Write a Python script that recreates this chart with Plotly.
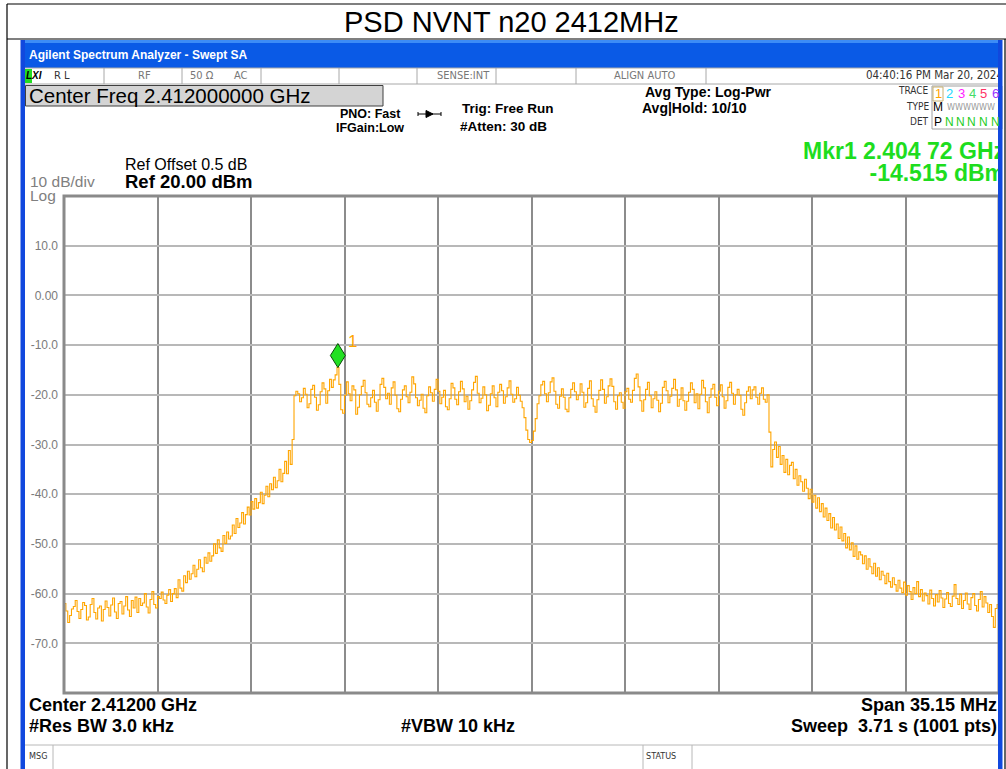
import numpy as np
import plotly.graph_objects as go

W, H = 1006, 769

# ---- sweep settings ----
CENTER_GHZ = 2.412
SPAN_MHZ = 35.15
REF_LEVEL_DBM = 20.0
DB_PER_DIV = 10.0
N_DIV = 10

MKR_FREQ_GHZ = 2.40472
MKR_LEVEL_DBM = -14.515

# ---- trace 1 (dBm), 501 sweep points from low to high frequency ----
level_floor_low = [
    -62.0, -63.5, -65.8, -64.4, -63.1, -62.6, -61.4, -63.6, -65.0, -63.2,
    -61.8, -62.4, -65.3, -64.7, -62.2, -61.0, -63.8, -65.1, -62.9, -62.5,
    -65.5, -63.2, -61.5, -62.8, -64.5, -62.3, -60.9, -63.7, -65.0, -62.0,
    -61.6, -64.1, -62.5, -60.6, -63.3, -64.6, -61.4, -62.9, -60.7, -63.8,
    -61.0, -62.4, -61.9, -60.0, -62.7, -63.9, -61.2, -59.6, -62.2, -62.9,
    -60.6, -61.0, -59.7, -61.3, -62.0, -60.3, -59.2, -61.6, -60.0,
]
level_rise = [
    -59.0, -60.8, -57.2, -58.9, -59.5, -56.4, -57.8, -55.5, -57.1, -56.0,
    -54.3, -56.6, -55.1, -53.2, -54.8, -55.6, -52.7, -53.9, -51.8, -53.5,
    -52.4, -50.0, -51.9, -49.2, -50.8, -51.5, -48.3, -49.9, -47.6, -49.0,
    -48.4, -46.2, -47.9, -44.9, -46.7, -45.8, -43.7, -46.0, -44.1, -42.6,
    -44.2, -41.5, -43.0, -40.9, -42.8, -41.7, -39.6, -41.9, -40.2, -38.4,
    -40.5, -37.9, -39.1, -36.6, -38.7, -37.3, -35.0, -37.5, -35.8, -33.4,
    -35.9, -31.2, -34.0, -29.0,
]
level_band = [
    -20.2, -19.3, -19.8, -21.4, -20.6, -18.7, -19.9, -22.6, -21.8, -18.9,
    -18.1, -20.5, -23.1, -22.0, -19.4, -17.6, -18.8, -21.7, -19.2, -16.9,
    -18.5, -17.0, -16.0, -14.5, -17.9, -23.0, -23.7, -20.1, -17.4, -19.8,
    -21.2, -18.2, -19.0, -23.9, -22.5, -20.0, -18.3, -17.1, -19.6, -21.9,
    -22.4, -20.6, -19.1, -21.5, -23.3, -21.0, -17.9, -16.7, -18.5, -20.8,
    -19.7, -21.9, -18.6, -17.4, -20.1, -22.8, -23.4, -20.9, -19.0, -18.2,
    -20.4, -21.6, -19.5, -16.4, -17.8, -20.6, -22.2, -21.1, -19.9, -22.7,
    -23.6, -20.2, -18.4, -19.6, -21.3, -18.9, -16.9, -19.3, -21.8, -20.5,
    -19.1, -22.4, -23.0, -20.8, -17.7, -18.6, -20.9, -22.0, -19.4, -17.3,
    -18.8, -21.4, -20.3, -22.9, -21.2, -19.0, -17.5, -16.3, -19.7, -21.6,
    -20.7, -18.4, -20.0, -23.2, -22.1, -19.8, -18.2, -20.6, -22.4, -19.5,
    -17.9, -19.2, -21.7, -20.4, -18.6, -17.2, -19.9, -21.5, -20.8, -18.5,
    -20.1, -21.3, -22.6, -24.6, -27.1, -29.0, -29.6, -29.2, -27.3, -24.8,
    -21.8, -20.2, -18.0, -17.3, -19.8, -21.4, -19.6, -17.4, -16.6, -19.3,
    -21.9, -22.7, -20.3, -18.8, -20.5, -22.9, -23.4, -20.6, -18.9, -17.6,
    -19.4, -21.0, -20.1, -17.8, -19.5, -22.5, -21.6, -18.7, -17.2, -20.8,
    -22.3, -23.5, -21.0, -19.1, -17.0, -18.9, -21.7, -20.4, -18.2, -16.8,
    -18.3, -21.4, -22.9, -20.2, -19.6, -21.5, -22.7, -19.4, -18.7, -20.9,
    -21.5, -19.1, -16.7, -15.8, -18.4, -21.2, -23.3, -21.0, -18.9, -17.5,
    -20.2, -22.6, -20.8, -19.4, -21.1, -23.4, -21.7, -18.5, -17.3, -19.2,
    -21.6, -20.3, -18.7, -16.9, -19.0, -22.3, -20.9, -18.6, -21.2, -23.1,
    -21.3, -19.5, -17.6, -18.9, -21.6, -19.8, -22.8, -19.9, -17.1, -18.6,
    -21.4, -23.6, -20.5, -18.8, -17.9, -20.5, -22.2, -19.3, -18.0, -20.4,
    -22.7, -21.2, -18.5, -17.5, -19.7, -21.9, -20.0, -18.9, -20.1, -22.9,
    -24.1, -21.6, -19.3, -18.4, -20.8, -19.0, -18.4, -20.5, -21.9, -19.7,
    -18.6, -20.9, -21.5, -20.0,
]
level_fall = [
    -27.5, -34.5, -31.0, -29.5, -32.6, -30.4, -34.0, -32.2, -35.6, -33.0,
    -36.1, -34.2, -33.6, -36.9, -35.0, -38.2, -36.3, -37.5, -39.4, -37.0,
    -38.8, -40.9, -39.0, -41.6, -40.2, -42.8, -40.7, -43.5, -41.9, -44.6,
    -42.8, -45.3, -43.9, -46.8, -44.7, -47.2, -46.0, -48.9, -46.6, -49.4,
    -47.9, -50.8, -48.6, -51.2, -49.8, -52.5, -50.4, -53.1, -51.6, -52.2,
    -54.0, -52.4, -55.1, -53.0, -54.6, -56.0, -53.9, -56.5, -54.8, -57.2,
    -55.5, -56.3, -58.0, -55.9, -57.6, -58.7, -56.8, -58.2, -59.5, -57.3,
    -58.9, -59.8, -57.7, -60.3, -58.4, -59.6, -61.2, -58.8, -60.0, -57.6,
    -60.6, -59.2, -61.5, -59.9, -60.4, -62.1, -59.3, -61.0, -62.5, -60.2,
    -61.7, -59.4, -60.9, -62.8, -61.1, -59.8, -62.0, -62.6, -60.5, -58.2,
    -61.0, -62.2, -60.1, -63.0, -61.4, -59.9, -62.1, -63.2, -60.8, -60.0,
    -62.4, -63.5, -61.2, -59.6, -62.7, -60.6, -61.9, -63.8, -62.2, -64.6,
    -66.8, -63.0, -62.2, -63.5,
]

y_tick_vals = [10, 0, -10, -20, -30, -40, -50, -60, -70]
y_tick_text = ["10.0", "0.00", "-10.0", "-20.0", "-30.0", "-40.0", "-50.0", "-60.0", "-70.0"]

trace_db = level_floor_low + level_rise + level_band + level_fall
start_ghz = CENTER_GHZ - SPAN_MHZ / 2000.0
stop_ghz = CENTER_GHZ + SPAN_MHZ / 2000.0
freq_ghz = np.linspace(start_ghz, stop_ghz, len(trace_db))

SANS = "Liberation Sans, Arial, sans-serif"
NARROW = "Liberation Sans Narrow, Arial Narrow, DejaVu Sans Condensed, Liberation Sans, sans-serif"

GRID_L, GRID_R, GRID_T, GRID_B = 64, 999, 196, 693

shapes = []
annotations = []


def fx(x):
    return x / W


def fy(y):
    return 1 - y / H


def rect(x0, y0, x1, y1, fill=None, line=None, lw=1, layer="below"):
    shapes.append(dict(
        type="rect", xref="paper", yref="paper",
        x0=fx(x0), x1=fx(x1), y0=fy(y1), y1=fy(y0),
        fillcolor=fill or "rgba(0,0,0,0)",
        line=dict(color=line or "rgba(0,0,0,0)", width=lw if line else 0),
        layer=layer,
    ))


def seg(x0, y0, x1, y1, color, lw=1, layer="above"):
    shapes.append(dict(
        type="line", xref="paper", yref="paper",
        x0=fx(x0), x1=fx(x1), y0=fy(y0), y1=fy(y1),
        line=dict(color=color, width=lw), layer=layer,
    ))


def label(text, x, y, size, color="#000000", anchor="left", bold=False, family=SANS, italic=False):
    if bold:
        text = f"<b>{text}</b>"
    if italic:
        text = f"<i>{text}</i>"
    annotations.append(dict(
        text=text, x=fx(x), y=fy(y), xref="paper", yref="paper",
        xanchor=anchor, yanchor="middle", showarrow=False, borderpad=0,
        font=dict(size=size, color=color, family=family),
    ))


# ---- page title box ----
seg(7, 4, 1006, 4, "#000000", 1.2)
seg(7, 39, 1006, 39, "#000000", 1.2)
seg(7, 4, 7, 769, "#000000", 1.2)
seg(1005, 39, 1005, 769, "#000000", 1.2)
label("PSD NVNT n20 2412MHz", 512, 22, 29, anchor="center")

# ---- analyzer window ----
rect(21, 40, 1002, 769, fill="#FFFFFF")
rect(21, 40, 1002, 68, fill="#0A5AE6")
rect(21, 40, 1002, 43, fill="#3D8CF6")
label("Agilent Spectrum Analyzer - Swept SA", 28, 55, 12, color="#FFFFFF", bold=True)

# status strip
seg(25, 68, 998, 68, "#A8A8A8", 1)
seg(25, 84, 998, 84, "#A8A8A8", 1)
for xs in [104, 182, 261, 339, 417, 496, 576, 706]:
    seg(xs, 68, xs, 84, "#A8A8A8", 1)
rect(25, 69, 32, 83, fill="#22DD22")
label("LXI", 25, 76, 10, bold=True, italic=True)
label("R L", 53, 76, 11, color="#333333", family=NARROW)
label("RF", 137, 76, 11, color="#777777", family=NARROW)
label("50 \u03a9", 189, 76, 11, color="#777777", family=NARROW)
label("AC", 233, 76, 11, color="#777777", family=NARROW)
label("SENSE:INT", 436, 76, 11, color="#777777", family=NARROW)
label("ALIGN AUTO", 613, 76, 11, color="#777777", family=NARROW)

# center frequency box
rect(25.5, 85.5, 383, 106, fill="#D4D4D4", line="#404040", lw=1)
label("Center Freq 2.412000000 GHz", 28, 96, 20.5)

label("PNO: Fast", 370, 114, 12.5, bold=True, anchor="center")
label("IFGain:Low", 370, 128, 12.5, bold=True, anchor="center")

# trigger arrow glyph
seg(418, 114, 441, 114, "#000000", 1)
shapes.append(dict(
    type="path", xref="paper", yref="paper",
    path=f"M {fx(426)} {fy(110.5)} L {fx(433)} {fy(114)} L {fx(426)} {fy(117.5)} Z",
    fillcolor="#000000", line=dict(color="#000000", width=1), layer="above",
))
seg(418, 112, 418, 116, "#000000", 1)
seg(441, 112, 441, 116, "#000000", 1)

label("Trig: Free Run", 461, 108, 13.5, bold=True)
label("#Atten: 30 dB", 459, 126, 13.5, bold=True)
label("Avg Type: Log-Pwr", 644, 92, 14, bold=True)
label("Avg|Hold: 10/10", 641, 108, 14, bold=True)

# trace / type / detector block
label("TRACE", 930, 91, 10, color="#333333", anchor="right", family=NARROW)
label("TYPE", 930, 107, 10, color="#333333", anchor="right", family=NARROW)
label("DET", 930, 122, 10, color="#333333", anchor="right", family=NARROW)
rect(932, 86, 1002, 129, fill="#FFFFFF", line="#A0A0A0", lw=1)
rect(933, 87, 943, 101, line="#C8B070", lw=1)
trace_cols = ["#FFA500", "#22D8FF", "#FF22FF", "#44DD66", "#FF3366", "#9933FF"]
for k, (xd, col) in enumerate(zip([938, 949, 961, 972, 983, 995], trace_cols)):
    label(str(k + 1), xd, 93, 13, color=col, anchor="center")
label("M", 938, 107, 12, anchor="center")
label("WWWWWW", 946, 107, 9, color="#9A9A9A", family=NARROW)
label("P", 938, 122, 12, anchor="center")
for xd in [949, 960, 971, 983, 995]:
    label("N", xd, 122, 12, color="#22CC22", anchor="center")

# reference level block
label("Ref Offset 0.5 dB", 124, 164, 16)
label("Ref 20.00 dBm", 124, 181, 18.5, bold=True)
label("10 dB/div", 29, 181, 15.5, color="#808080")
label("Log", 29, 195, 15.5, color="#808080")

# bottom readouts
label("Center 2.41200 GHz", 28, 705, 18, bold=True)
label("#Res BW 3.0 kHz", 28, 726, 18, bold=True)
label("#VBW 10 kHz", 400, 726, 18, bold=True)
label("Span 35.15 MHz", 998, 705, 18, bold=True, anchor="right")
label("Sweep\u00a0\u00a03.71 s (1001 pts)", 998, 726, 18, bold=True, anchor="right")

seg(25, 745, 998, 745, "#B8B8B8", 1)
seg(53, 745, 53, 769, "#B8B8B8", 1)
seg(643, 745, 643, 769, "#B8B8B8", 1)
seg(692, 745, 692, 769, "#B8B8B8", 1)
label("MSG", 28, 756, 9, color="#333333", family=NARROW)
label("STATUS", 645, 756, 9, color="#333333", family=NARROW)

# graticule frame
rect(GRID_L, GRID_T, GRID_R, GRID_B, line="#8A8A8A", lw=3, layer="above")

# window frame (drawn last so it covers anything running past the right edge)
rect(20.5, 40, 25, 769, fill="#1148DE", layer="above")
rect(998, 40, 1002.5, 769, fill="#1148DE", layer="above")

# marker 1 diamond, bottom tip on the marker point
shapes.append(dict(
    type="path", xref="x", yref="y",
    xsizemode="pixel", ysizemode="pixel",
    xanchor=MKR_FREQ_GHZ, yanchor=MKR_LEVEL_DBM,
    path="M 0 0 L -7.5 12 L 0 24 L 7.5 12 Z",
    fillcolor="#22E022", line=dict(color="#0A4A0A", width=1), layer="above",
))
annotations.append(dict(
    text="1", x=MKR_FREQ_GHZ, y=MKR_LEVEL_DBM, xref="x", yref="y",
    xshift=15, yshift=26, showarrow=False, borderpad=0,
    font=dict(size=17, color="#FFA500", family=SANS),
))

fig = go.Figure()
fig.add_trace(go.Scatter(
    x=freq_ghz, y=trace_db, mode="lines",
    line=dict(color="#FFA500", width=1.1, shape="hv"),
    xaxis="x", yaxis="y", hoverinfo="skip", showlegend=False,
))

# right-hand readouts, clipped at the window edge
fig.add_trace(go.Scatter(
    x=[1005, 1005], y=[153, 175], mode="text",
    text=["<b>Mkr1 2.404 72 GHz</b>", "<b>-14.515 dBm</b>"],
    textposition="middle left",
    textfont=dict(size=23, color="#1EDD1E", family=SANS),
    xaxis="x2", yaxis="y2", hoverinfo="skip", showlegend=False, cliponaxis=True,
))
fig.add_trace(go.Scatter(
    x=[1003], y=[76], mode="text", text=["04:40:16 PM Mar 20, 2024"],
    textposition="middle left",
    textfont=dict(size=11.5, color="#333333", family=NARROW),
    xaxis="x2", yaxis="y2", hoverinfo="skip", showlegend=False, cliponaxis=True,
))

fig.update_layout(
    width=W, height=H, autosize=False,
    margin=dict(l=0, r=0, t=0, b=0, pad=0),
    paper_bgcolor="#FFFFFF", plot_bgcolor="rgba(0,0,0,0)",
    showlegend=False,
    xaxis=dict(
        domain=[fx(GRID_L), fx(GRID_R)], range=[start_ghz, stop_ghz],
        tick0=start_ghz, dtick=SPAN_MHZ / N_DIV / 1000.0,
        showgrid=True, gridcolor="#8C8C8C", gridwidth=1.5,
        showticklabels=False, ticks="", zeroline=False, showline=False, fixedrange=True,
    ),
    yaxis=dict(
        domain=[fy(GRID_B), fy(GRID_T)],
        range=[REF_LEVEL_DBM - N_DIV * DB_PER_DIV, REF_LEVEL_DBM],
        tickvals=y_tick_vals, ticktext=y_tick_text,
        tickfont=dict(size=12, color="#7A7A7A", family=SANS),
        ticks="", ticklabelstandoff=5,
        showgrid=True, gridcolor="#B8B8B8", gridwidth=2,
        zeroline=False, showline=False, fixedrange=True,
    ),
    xaxis2=dict(domain=[0, fx(1002)], range=[0, 1002], visible=False, fixedrange=True),
    yaxis2=dict(domain=[0, 1], range=[H, 0], visible=False, fixedrange=True),
    shapes=shapes,
    annotations=annotations,
)

fig.write_html("out.html")
